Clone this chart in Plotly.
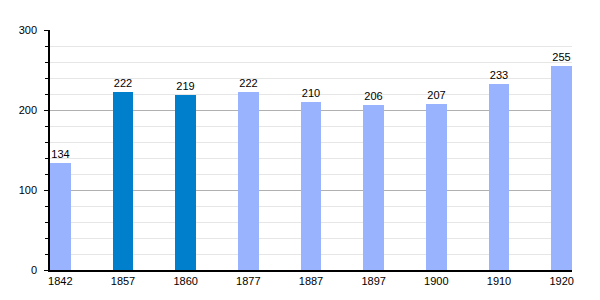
import plotly.graph_objects as go

years = ["1842", "1857", "1860", "1877", "1887", "1897", "1900", "1910", "1920"]
population = [134, 222, 219, 222, 210, 206, 207, 233, 255]
bar_colors = ["#99B3FF", "#0080CC", "#0080CC", "#99B3FF", "#99B3FF", "#99B3FF", "#99B3FF", "#99B3FF", "#99B3FF"]
y_ticks = [0, 100, 200, 300]

fig = go.Figure(go.Bar(
    x=years, y=population, marker=dict(color=bar_colors, line=dict(width=0)),
    width=0.33, text=[str(v) for v in population], textposition="outside",
    textfont=dict(family="Liberation Sans, Arial", size=11, color="#000"),
    cliponaxis=False,
))
fig.update_layout(
    width=600, height=300, margin=dict(l=50, r=28, t=30, b=30),
    plot_bgcolor="white", paper_bgcolor="white", showlegend=False,
    font=dict(family="Liberation Sans, Arial", size=11, color="#000"),
    bargap=0,
)
fig.update_xaxes(type="category", range=[-0.165, 8.165], showline=True, linecolor="#000",
                 linewidth=1.5, ticks="", showgrid=False, tickfont=dict(size=11))
fig.update_yaxes(range=[0, 300], tickvals=y_ticks, showline=True, linecolor="#000", linewidth=1.5,
                 ticks="outside", ticklen=4, tickcolor="#000", gridcolor="#B0B0B0", gridwidth=1,
                 zeroline=False, tickfont=dict(size=11), ticklabelstandoff=5,
                 minor=dict(dtick=20, showgrid=True, gridcolor="#E6E6E6", ticks="outside", ticklen=3, tickcolor="#000"))
fig.write_html("out.html")
